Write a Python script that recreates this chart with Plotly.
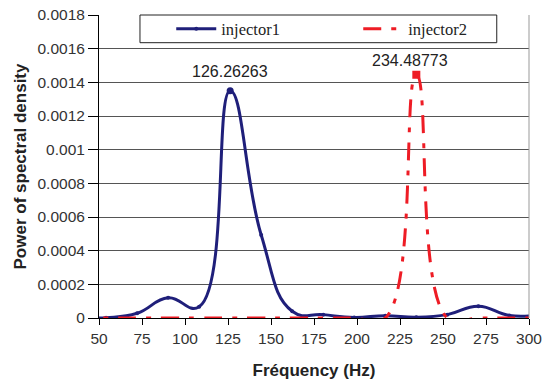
import plotly.graph_objects as go

# Frequencies (Hz) of the sampled spectrum points
freq = [36.075, 54.112, 72.150, 90.188, 108.225, 126.26263, 144.300, 162.338,
        180.375, 198.413, 216.450, 234.48773, 252.525, 270.563, 288.600, 306.638]
# Power spectral density values
injector1 = [0.0, 0.000002, 0.000028, 0.000120, 0.000067, 0.001350, 0.000493, 0.000040,
             0.000020, 0.000003, 0.000014, 0.000005, 0.000020, 0.000070, 0.000015, 0.000020]
injector2 = [0.0, 0.0, 0.0, 0.0, 0.0, 0.0, 0.0, 0.0,
             0.0, 0.0, 0.0, 0.001445, 0.0, 0.0, 0.0, 0.0]

peak1_x, peak1_y, peak1_label = 126.26263, 0.001350, "126.26263"
peak2_x, peak2_y, peak2_label = 234.48773, 0.001445, "234.48773"

x_ticks = [50, 75, 100, 125, 150, 175, 200, 225, 250, 275, 300]
y_ticks = [0, 0.0002, 0.0004, 0.0006, 0.0008, 0.001, 0.0012, 0.0014, 0.0016, 0.0018]
y_tick_labels = ["0", "0.0002", "0.0004", "0.0006", "0.0008", "0.001",
                 "0.0012", "0.0014", "0.0016", "0.0018"]

BLUE = "#1f1f7a"
RED = "#ee1c25"
SERIF = "Liberation Serif, Times New Roman, DejaVu Serif, serif"
SANS = "Liberation Sans, Arial, sans-serif"

fig = go.Figure()
fig.add_trace(go.Scatter(
    x=freq, y=injector1, name="injector1", mode="lines+markers",
    line=dict(color=BLUE, width=3, shape="spline", smoothing=1.3),
    marker=dict(size=4, color=BLUE),
))
fig.add_trace(go.Scatter(
    x=freq, y=injector2, name="injector2", mode="lines",
    line=dict(color=RED, width=3, shape="spline", smoothing=1.3, dash="18px,10px,5px,10px"),
))
# highlighted peaks
fig.add_trace(go.Scatter(
    x=[peak1_x], y=[peak1_y], mode="markers", showlegend=False,
    marker=dict(size=7, color=BLUE, symbol="circle"),
))
fig.add_trace(go.Scatter(
    x=[peak2_x], y=[peak2_y], mode="markers", showlegend=False,
    marker=dict(size=8, color=RED, symbol="square"),
))

fig.add_annotation(x=peak1_x, y=peak1_y, text=peak1_label, showarrow=False,
                   yshift=19, xshift=0, font=dict(family=SANS, size=16, color="#222"))
fig.add_annotation(x=peak2_x, y=peak2_y, text=peak2_label, showarrow=False,
                   yshift=14, xshift=-6, font=dict(family=SANS, size=16, color="#222"))

# legend box
fig.add_shape(type="rect", xref="paper", yref="paper", x0=0.0953, x1=0.925, y0=0.9086, y1=1.0,
              fillcolor="white", line=dict(color="#222", width=1), layer="above")
# right frame
fig.add_shape(type="line", xref="paper", yref="paper", x0=1, x1=1, y0=0, y1=1,
              line=dict(color="#999", width=1))

fig.update_layout(
    width=548, height=381,
    margin=dict(l=99, r=19, t=15, b=63, autoexpand=False),
    paper_bgcolor="white", plot_bgcolor="white",
    showlegend=True,
    legend=dict(orientation="h", x=0.168, xanchor="left", y=0.954, yanchor="middle",
                bgcolor="rgba(0,0,0,0)", borderwidth=0,
                font=dict(family=SERIF, size=16.5, color="#222"),
                entrywidth=132, entrywidthmode="pixels", itemwidth=40),
)
fig.update_xaxes(
    range=[50, 300], tickvals=x_ticks, showgrid=False, zeroline=False,
    showline=True, linecolor="black", linewidth=1,
    ticks="outside", ticklen=6, tickcolor="black", ticklabeloverflow="allow",
    tickfont=dict(family=SANS, size=15.5, color="#333"),
    title=dict(text="<b>Fréquency (Hz)</b>", standoff=18,
               font=dict(family=SANS, size=17, color="#222")),
)
fig.update_yaxes(
    range=[0, 0.0018], tickvals=y_ticks, ticktext=y_tick_labels,
    showgrid=True, gridcolor="#555", gridwidth=1, zeroline=False,
    showline=True, linecolor="black", linewidth=1,
    ticks="outside", ticklen=10, tickcolor="black", ticklabeloverflow="allow",
    tickfont=dict(family=SANS, size=15.5, color="#333"),
    title=dict(text="<b>Power of spectral density</b>", standoff=6,
               font=dict(family=SANS, size=17, color="#222")),
)

# remove the browser's default 8px body margin so the figure fills the window
fig.write_html("out.html", config={"displayModeBar": False},
               post_script="document.body.style.margin='0';")
